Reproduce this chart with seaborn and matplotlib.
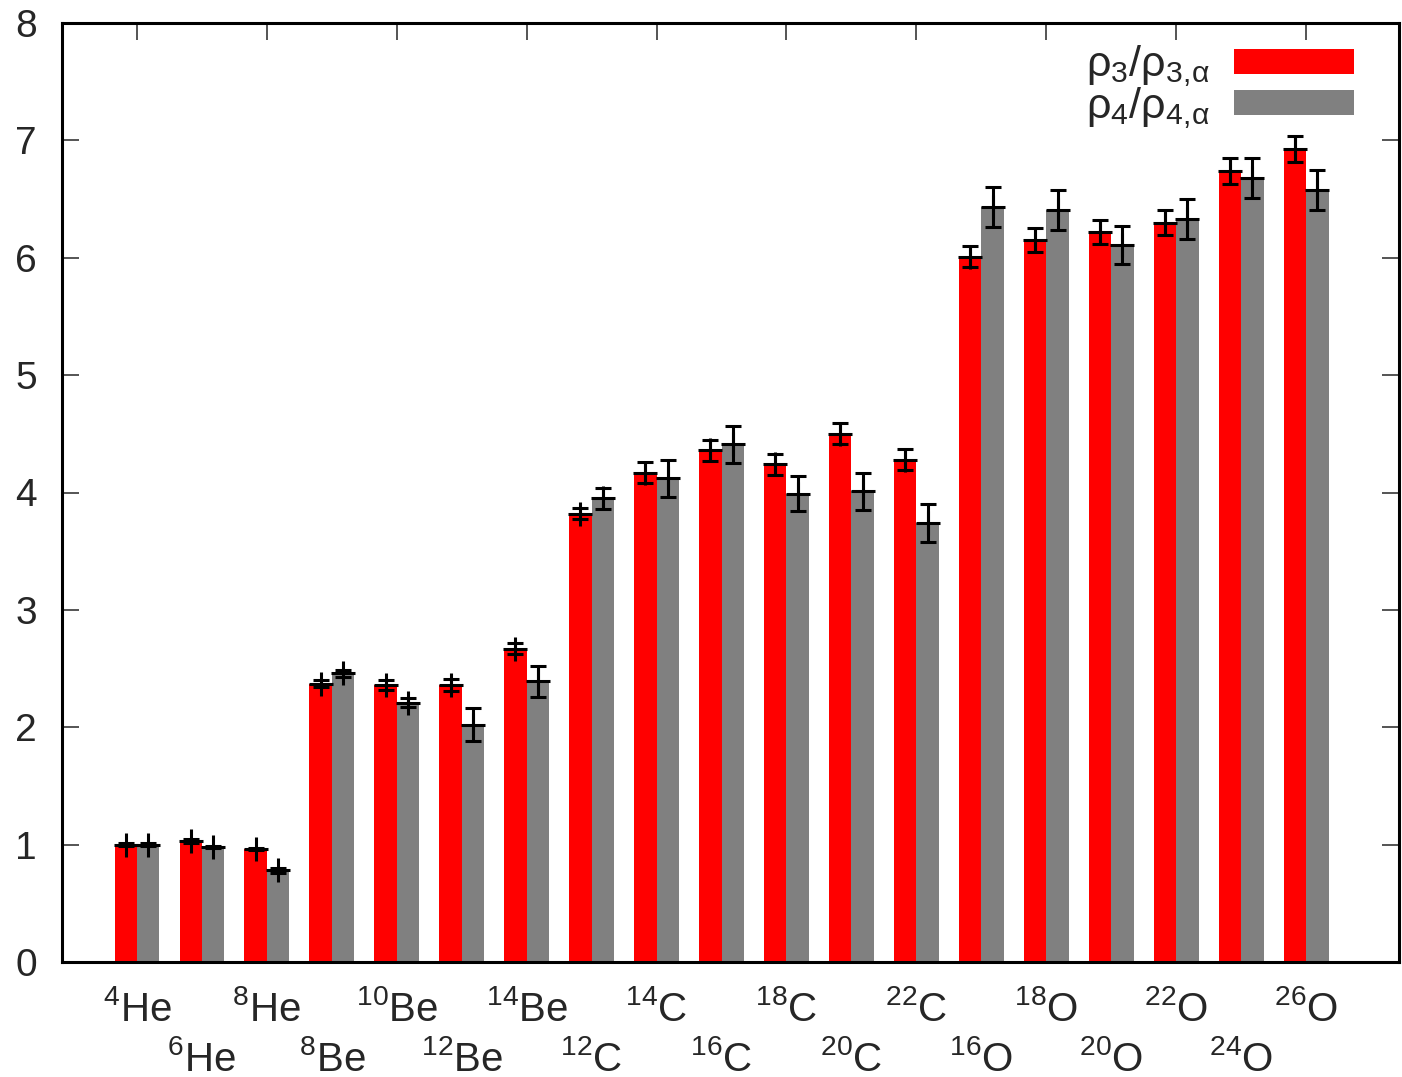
import matplotlib
matplotlib.use("Agg")
import matplotlib.pyplot as plt
from matplotlib.patches import Patch
import seaborn as sns
import pandas as pd

# nuclei along the x axis
mass = ["4", "6", "8", "8", "10", "12", "14", "12", "14", "16", "18", "20", "22",
        "16", "18", "20", "22", "24", "26"]
element = ["He", "He", "He", "Be", "Be", "Be", "Be", "C", "C", "C", "C", "C", "C",
           "O", "O", "O", "O", "O", "O"]

# rho_3 / rho_3,alpha
rho3 = [1.00, 1.03, 0.96, 2.37, 2.36, 2.36, 2.67, 3.82, 4.17, 4.36, 4.24, 4.50, 4.28,
        6.01, 6.15, 6.22, 6.30, 6.74, 6.93]
rho3_err = [0.01, 0.015, 0.01, 0.03, 0.04, 0.05, 0.05, 0.05, 0.09, 0.09, 0.09, 0.09, 0.09,
            0.09, 0.10, 0.10, 0.11, 0.11, 0.11]
# rho_4 / rho_4,alpha
rho4 = [1.00, 0.98, 0.78, 2.46, 2.21, 2.02, 2.39, 3.95, 4.12, 4.41, 3.99, 4.01, 3.74,
        6.43, 6.41, 6.11, 6.33, 6.68, 6.58]
rho4_err = [0.01, 0.01, 0.02, 0.03, 0.04, 0.14, 0.13, 0.09, 0.16, 0.16, 0.15, 0.16, 0.16,
            0.17, 0.17, 0.16, 0.17, 0.17, 0.17]

series = [r"$\rho_3/\rho_{3,\!\alpha}$", r"$\rho_4/\rho_{4,\!\alpha}$"]
colors = ["#ff0000", "#808080"]


def main():
    sns.set_theme(style="ticks")
    plt.rcParams["font.family"] = ["Liberation Sans", "DejaVu Sans"]
    plt.rcParams["mathtext.fontset"] = "custom"
    plt.rcParams["mathtext.rm"] = "Liberation Sans"
    plt.rcParams["mathtext.it"] = "Liberation Sans"
    plt.rcParams["mathtext.default"] = "regular"

    names = [m + e for m, e in zip(mass, element)]
    df = pd.DataFrame({
        "nucleus": names * 2,
        "ratio": rho3 + rho4,
        "series": [series[0]] * len(names) + [series[1]] * len(names),
    })

    fig = plt.figure(figsize=(14.02, 10.77), dpi=100)
    ax = fig.add_axes([62 / 1402, 1 - 962 / 1077, 1337 / 1402, 939 / 1077])

    sns.barplot(data=df, x="nucleus", y="ratio", hue="series", order=names,
                hue_order=series, palette=colors, saturation=1, width=0.69, gap=0,
                errorbar=None, linewidth=0, edgecolor="none", legend=False, ax=ax)

    for cont, err in zip(ax.containers, [rho3_err, rho4_err]):
        xs = [p.get_x() + p.get_width() / 2 for p in cont]
        ys = [p.get_height() for p in cont]
        ax.errorbar(xs, ys, yerr=err, fmt="+", color="black", markersize=17,
                    markeredgewidth=2.2, elinewidth=2.2, capsize=5.8, capthick=2.2,
                    zorder=5)

    ax.set_xlim(-1.154, 19.43)
    ax.set_ylim(0, 8)
    ax.set_xlabel("")
    ax.set_ylabel("")

    labels = [r"$^{%s}$%s" % (m, e) for m, e in zip(mass, element)]
    ax.set_xticks(range(0, len(names), 2))
    ax.set_xticklabels(labels[0::2])
    ax.set_xticks(range(1, len(names), 2), minor=True)
    ax.set_xticklabels(labels[1::2], minor=True)

    ax.tick_params(axis="x", which="both", bottom=False, top=True, direction="in",
                   labelsize=29)
    ax.tick_params(axis="x", which="major", length=12, width=1.1, pad=20)
    ax.tick_params(axis="x", which="minor", length=0, pad=56)
    ax.set_yticks(range(0, 9))
    ax.tick_params(axis="y", left=True, right=True, direction="in", length=12,
                   width=1.1, labelsize=28, pad=18)

    for s in ax.spines.values():
        s.set_linewidth(2.2)
        s.set_color("black")

    handles = [Patch(facecolor=c, edgecolor="none") for c in colors]
    ax.legend(handles, series, loc="upper right", bbox_to_anchor=(0.9664, 0.978),
              frameon=False, fontsize=31, markerfirst=False, handlelength=2.8,
              handleheight=0.52, handletextpad=0.55, labelspacing=-0.1,
              borderpad=0, borderaxespad=0)

    fig.savefig("out.png", dpi=100)


if __name__ == "__main__":
    main()
